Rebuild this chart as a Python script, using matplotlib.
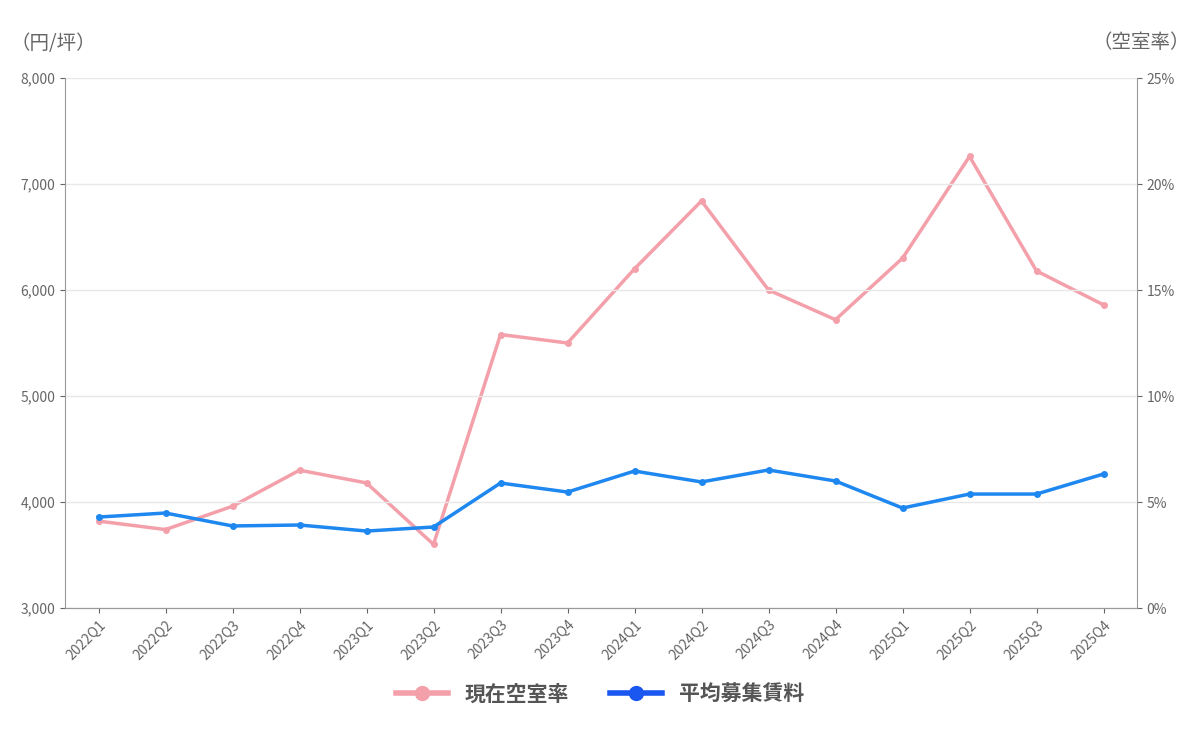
import matplotlib.pyplot as plt
from matplotlib.lines import Line2D
from matplotlib.ticker import FuncFormatter

plt.rcParams["font.family"] = ["Noto Sans CJK JP", "DejaVu Sans"]

quarters = ["2022Q1", "2022Q2", "2022Q3", "2022Q4", "2023Q1", "2023Q2", "2023Q3", "2023Q4",
            "2024Q1", "2024Q2", "2024Q3", "2024Q4", "2025Q1", "2025Q2", "2025Q3", "2025Q4"]
rent = [3858, 3896, 3774, 3783, 3726, 3764, 4179, 4094,
        4292, 4189, 4302, 4198, 3943, 4075, 4075, 4264]
vacancy = [4.1, 3.7, 4.8, 6.5, 5.9, 3.0, 12.9, 12.5,
           16.0, 19.2, 15.0, 13.6, 16.5, 21.3, 15.9, 14.3]

pink = "#F4A0AA"
blue = "#1E88F0"
grey = "#666666"

fig = plt.figure(figsize=(12, 7.29), dpi=100)
ax = fig.add_axes([65 / 1200, 1 - 608 / 729, (1137 - 65) / 1200, (608 - 78) / 729])
ax2 = ax.twinx()

x = range(len(quarters))
ax2.plot(x, vacancy, color=pink, lw=2.5, marker="o", ms=4, zorder=2)
ax.plot(x, rent, color=blue, lw=2.5, marker="o", ms=4, zorder=3)
ax.set_zorder(ax2.get_zorder() + 1)
ax.patch.set_visible(False)

ax.set_xlim(-0.5, len(quarters) - 0.5)
ax.set_ylim(3000, 8000)
ax.set_yticks(range(3000, 8001, 1000))
ax.yaxis.set_major_formatter(FuncFormatter(lambda v, p: f"{int(v):,}"))
ax2.set_ylim(0, 25)
ax2.set_yticks(range(0, 26, 5))
ax2.yaxis.set_major_formatter(FuncFormatter(lambda v, p: f"{int(v)}%"))

ax.set_xticks(list(x))
ax.set_xticklabels(quarters, rotation=45, ha="right", rotation_mode="anchor")
ax.grid(axis="y", color="#e8e8e8", lw=1)
ax.set_axisbelow(True)

for a in (ax, ax2):
    for s in ("top",):
        a.spines[s].set_visible(False)
    a.spines["left"].set_color("#999999")
    a.spines["right"].set_color("#999999")
    a.spines["bottom"].set_color("#999999")
    a.tick_params(colors=grey, labelsize=10)
ax.spines["right"].set_visible(False)
ax2.spines["left"].set_visible(False)

fig.text(10 / 1200, 1 - 43 / 729, "（円/坪）", fontsize=14, color=grey, va="center", ha="left")
fig.text(1190 / 1200, 1 - 43 / 729, "（空室率）", fontsize=14, color=grey, va="center", ha="right")

handles = [Line2D([], [], color=pink, lw=4, marker="o", ms=10),
           Line2D([], [], color="#1A56F0", lw=4, marker="o", ms=10)]
fig.legend(handles, ["現在空室率", "平均募集賃料"], loc="center", bbox_to_anchor=(0.5, 1 - 694 / 729),
           ncol=2, frameon=False, prop={"size": 15, "weight": "bold"}, labelcolor="#555555",
           handlelength=2.5, columnspacing=2)

fig.savefig("out.png")
